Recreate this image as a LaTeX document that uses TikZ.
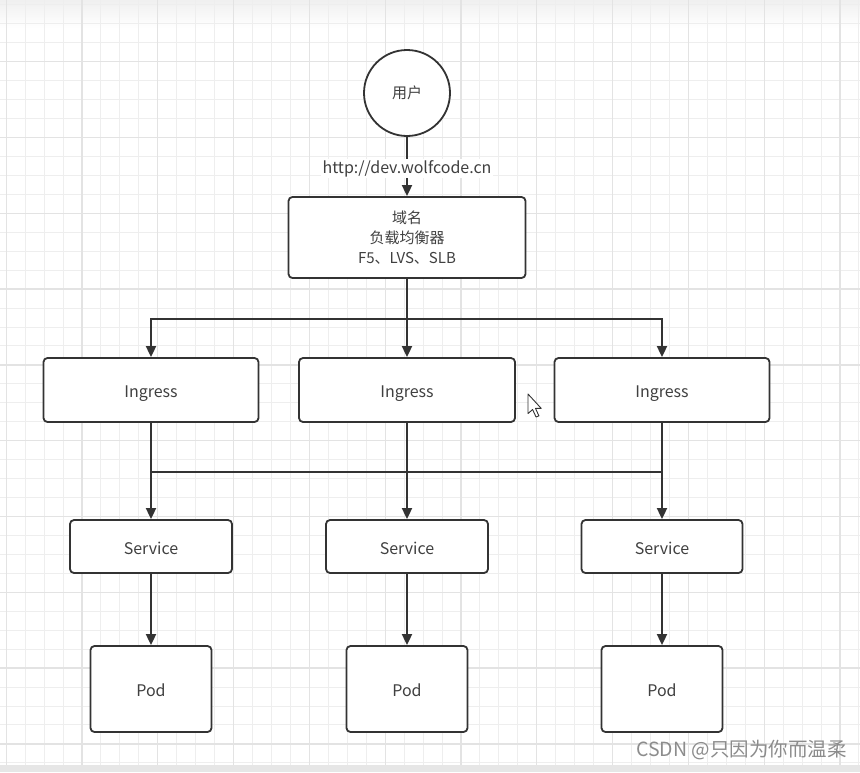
\documentclass[tikz,border=0pt]{standalone}
\usepackage{fontspec}
\setmainfont{Noto Sans CJK SC}
\usetikzlibrary{arrows.meta}
\definecolor{ln}{HTML}{333333}
\definecolor{tx}{HTML}{404040}
\definecolor{gmin}{HTML}{EEEEEE}
\definecolor{gmaj}{HTML}{E3E3E3}
\definecolor{strip}{HTML}{E6E6E6}
\definecolor{wmark}{HTML}{8C8C8C}
\tikzset{
  box/.style={draw=ln, line width=1.8, rounded corners=4, fill=white, inner sep=0,
    text=tx, font=\fontsize{15}{20}\selectfont, align=center},
  lbox/.style={box, font=\fontsize{16}{20}\selectfont, text height=15pt, text depth=0pt},
  conn/.style={draw=ln, line width=1.8},
  arr/.style={conn, -{Triangle[length=11pt,width=10pt]}},
}
\begin{document}
\begin{tikzpicture}[x=1pt,y=-1pt]
\useasboundingbox (0,0) rectangle (860,772);
\fill[white] (0,0) rectangle (860,772);
\shade[top color=black!6, bottom color=white] (0,0) rectangle (860,28);
% grid
\foreach \k in {-4,...,41} {
  \pgfmathsetmacro\xx{82+18.95*\k}
  \draw[gmin, line width=1] (\xx,0) -- (\xx,765);
}
\foreach \k in {-3,...,37} {
  \pgfmathsetmacro\yy{61.7+18.95*\k}
  \draw[gmin, line width=1] (0,\yy) -- (860,\yy);
}
\foreach \k in {-1,...,10} {
  \pgfmathsetmacro\xx{82+75.8*\k}
  \draw[gmaj, line width=1.3] (\xx,0) -- (\xx,765);
}
\foreach \k in {0,...,9} {
  \pgfmathsetmacro\yy{61.7+75.8*\k}
  \draw[gmaj, line width=1.3] (0,\yy) -- (860,\yy);
}
\fill[strip] (0,765) rectangle (860,772);

% nodes
\node[circle, draw=ln, line width=1.8, fill=white, minimum size=86, inner sep=0,
  text=tx, font=\fontsize{15}{20}\selectfont] (user) at (407,93) {用户};
\node[box, minimum width=237, minimum height=81] (lb) at (407,237.5)
  {域名\\负载均衡器\\F5、LVS、SLB};

\node[lbox, minimum width=215, minimum height=64] (ing1) at (151,390) {Ingress};
\node[lbox, minimum width=216, minimum height=64] (ing2) at (407,390) {Ingress};
\node[lbox, minimum width=215, minimum height=64] (ing3) at (662,390) {Ingress};

\node[lbox, minimum width=162, minimum height=53] (svc1) at (151,546.5) {Service};
\node[lbox, minimum width=162, minimum height=53] (svc2) at (407,546.5) {Service};
\node[lbox, minimum width=161, minimum height=53] (svc3) at (662,546.5) {Service};

\node[lbox, minimum width=121, minimum height=86] (pod1) at (151,689) {Pod};
\node[lbox, minimum width=121, minimum height=86] (pod2) at (407,689) {Pod};
\node[lbox, minimum width=121, minimum height=86] (pod3) at (662,689) {Pod};

% connectors
\draw[arr] (user) -- (lb);
\path (user.south) -- (lb.north) node[midway, yshift=-2, fill=white, inner sep=1.5, text=tx,
  font=\fontsize{16}{18}\selectfont] (url) {http://dev.wolfcode.cn};

\coordinate (j) at (407,319);
\draw[conn] (lb.south) -- (j);
\draw[arr] (j) -- (ing2.north);
\draw[arr] (j) -| (ing1.north);
\draw[arr] (j) -| (ing3.north);

\coordinate (h1) at (151,472);
\coordinate (h3) at (662,472);
\draw[conn] (h1) -- (h3);
\draw[arr] (ing1.south) -- (svc1.north);
\draw[arr] (ing2.south) -- (svc2.north);
\draw[arr] (ing3.south) -- (svc3.north);

\draw[arr] (svc1.south) -- (pod1.north);
\draw[arr] (svc2.south) -- (pod2.north);
\draw[arr] (svc3.south) -- (pod3.north);

% mouse cursor
\begin{scope}[shift={(528,394)}, scale=1.15]
  \draw[fill=white, draw=ln, line width=0.9, line join=round]
    (0,0) -- (0,17) -- (4,13.5) -- (7,20) -- (9.5,19) -- (6.5,12.5) -- (11.5,12.5) -- cycle;
\end{scope}

% watermark
\node[text=wmark, font=\fontsize{19.5}{22}\selectfont, anchor=east, inner sep=0] (wm) at (847,750)
  {CSDN @只因为你而温柔};
\end{tikzpicture}
\end{document}
